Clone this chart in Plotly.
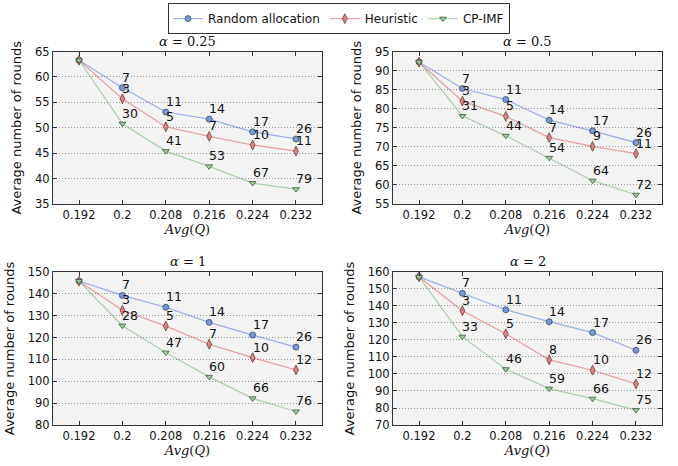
import plotly.graph_objects as go

# Average load levels on the x axis
avg_q = [0.192, 0.200, 0.208, 0.216, 0.224, 0.232]
avg_q_labels = ["0.192", "0.2", "0.208", "0.216", "0.224", "0.232"]

alphas = ["0.25", "0.5", "1", "2"]

# Average number of rounds per method, one list per alpha
random_alloc = {
    "0.25": [63.3, 57.9, 53.1, 51.7, 49.2, 47.8],
    "0.5": [92.3, 85.3, 82.4, 77.0, 74.2, 71.1],
    "1": [145.8, 139.2, 133.8, 126.9, 121.1, 115.6],
    "2": [157.0, 147.4, 137.7, 130.7, 124.3, 113.9],
}
heuristic = {
    "0.25": [63.3, 55.7, 50.2, 48.3, 46.6, 45.4],
    "0.5": [92.2, 82.0, 78.0, 72.4, 70.1, 68.2],
    "1": [145.7, 132.4, 125.2, 116.9, 110.8, 105.2],
    "2": [157.0, 137.1, 123.6, 108.3, 102.2, 94.2],
}
cp_imf = {
    "0.25": [63.3, 50.8, 45.4, 42.4, 39.1, 37.9],
    "0.5": [92.3, 78.1, 72.9, 67.1, 61.1, 57.4],
    "1": [145.8, 125.4, 113.1, 102.0, 92.2, 86.2],
    "2": [157.0, 121.9, 102.8, 91.4, 85.5, 78.8],
}

# Point labels (shown from the second load level on)
random_labels = {
    "0.25": [7, 11, 14, 17, 26],
    "0.5": [7, 11, 14, 17, 26],
    "1": [7, 11, 14, 17, 26],
    "2": [7, 11, 14, 17, 26],
}
heuristic_labels = {
    "0.25": [3, 5, 7, 10, 11],
    "0.5": [3, 5, 7, 9, 11],
    "1": [3, 5, 7, 10, 12],
    "2": [3, 5, 8, 10, 12],
}
cp_imf_labels = {
    "0.25": [30, 41, 53, 67, 79],
    "0.5": [31, 44, 54, 64, 72],
    "1": [28, 47, 60, 66, 76],
    "2": [33, 46, 59, 66, 75],
}

y_ranges = {"0.25": [35, 65], "0.5": [55, 95], "1": [80, 150], "2": [70, 160]}
y_dtick = {"0.25": 5, "0.5": 5, "1": 10, "2": 10}

W, H = 678, 466


def px_x(p):
    return p / W


def px_y(p):
    return 1 - p / H


# Panel geometry (left, right, top, bottom in pixels)
panels = [
    (53, 322, 46, 203),
    (393, 662, 46, 203),
    (53, 322, 273, 431),
    (393, 662, 273, 431),
]

series = [
    ("Random allocation", random_alloc, random_labels, "circle", 6,
     "rgba(80,120,220,0.55)", "#7398dc", "#3c4a6a"),
    ("Heuristic", heuristic, heuristic_labels, "diamond-tall", 7,
     "rgba(220,90,90,0.55)", "#e08080", "#6a3c3c"),
    ("CP-IMF", cp_imf, cp_imf_labels, "triangle-down", 6,
     "rgba(110,180,110,0.55)", "#9ccc9c", "#3c5a3c"),
]

FONT = "DejaVu Sans"
SERIF = "DejaVu Serif"

fig = go.Figure()
layout_axes = {}
annotations = []

for i, a in enumerate(alphas):
    n = i + 1
    xa = "x" if n == 1 else f"x{n}"
    ya = "y" if n == 1 else f"y{n}"
    xkey = "xaxis" if n == 1 else f"xaxis{n}"
    ykey = "yaxis" if n == 1 else f"yaxis{n}"
    l, r, t, b = panels[i]

    for name, data, labels, sym, msize, lcol, mfill, medge in series:
        fig.add_trace(go.Scatter(
            x=avg_q, y=data[a], mode="lines+markers", name=name,
            legendgroup=name, showlegend=(i == 0),
            line=dict(color=lcol, width=1.2),
            marker=dict(symbol=sym, size=msize, color=mfill,
                        line=dict(color=medge, width=0.8)),
            xaxis=xa, yaxis=ya,
        ))
        for xv, yv, lab in zip(avg_q[1:], data[a][1:], labels[a]):
            annotations.append(dict(
                x=xv, y=yv, xref=xa, yref=ya, text=str(lab),
                showarrow=False, xanchor="left", yanchor="bottom",
                xshift=-2, yshift=1,
                font=dict(family=FONT, size=12.5, color="#111"),
            ))

    layout_axes[xkey] = dict(
        domain=[px_x(l), px_x(r)], anchor=ya,
        range=[0.1872, 0.2368], tickvals=avg_q, ticktext=avg_q_labels,
        ticks="inside", ticklen=4, tickcolor="#333", mirror="ticks",
        showline=True, linecolor="#333", linewidth=1, showgrid=False,
        zeroline=False,
        tickfont=dict(family=FONT, size=11.5, color="#111"),
        title=dict(text="<i>Avg</i>(<i>Q</i>)", standoff=4,
                   font=dict(family=SERIF, size=13, color="#111")),
    )
    layout_axes[ykey] = dict(
        domain=[px_y(b), px_y(t)], anchor=xa,
        range=y_ranges[a], dtick=y_dtick[a],
        ticks="inside", ticklen=4, tickcolor="#333", mirror="ticks",
        showline=True, linecolor="#333", linewidth=1,
        showgrid=True, gridcolor="#999", griddash="1px,2px", gridwidth=1,
        zeroline=False,
        tickfont=dict(family=FONT, size=11.5, color="#111"),
        title=dict(text="Average number of rounds", standoff=10,
                   font=dict(family=FONT, size=13, color="#111")),
    )
    annotations.append(dict(
        x=(px_x(l) + px_x(r)) / 2, y=px_y(t), xref="paper", yref="paper",
        text=f"<i>α</i> = {a}", showarrow=False, xanchor="center",
        yanchor="bottom", yshift=1,
        font=dict(family=SERIF, size=13, color="#111"),
    ))

fig.update_layout(
    width=W, height=H,
    margin=dict(l=0, r=0, t=0, b=0),
    paper_bgcolor="white", plot_bgcolor="#f3f3f3",
    showlegend=True,
    legend=dict(
        orientation="h", x=0.5, xanchor="center", y=px_y(-4), yanchor="top",
        bordercolor="#333", borderwidth=1, bgcolor="white",
        font=dict(family=FONT, size=12, color="#111"),
        itemwidth=30, tracegroupgap=0,
    ),
    annotations=annotations,
    **layout_axes,
)

fig.write_html("out.html")
